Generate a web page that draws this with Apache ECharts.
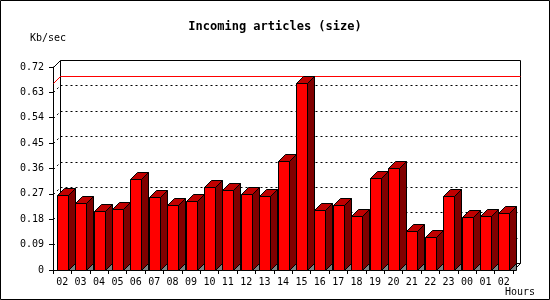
<!DOCTYPE html>
<html>
<head>
<meta charset="utf-8">
<script src="https://cdn.jsdelivr.net/npm/echarts@6/dist/echarts.min.js"></script>
<style>
  html, body { margin: 0; padding: 0; background: #fff; }
  #main { width: 550px; height: 300px; }
</style>
</head>
<body>
<div id="main"></div>
<script>
// hourly incoming article volume
const hours = ['02','03','04','05','06','07','08','09','10','11','12','13','14',
               '15','16','17','18','19','20','21','22','23','00','01','02'];
const kbPerSec = [0.266,0.236,0.209,0.216,0.323,0.259,0.229,0.244,0.294,0.284,0.270,0.262,0.387,
                  0.663,0.212,0.230,0.191,0.326,0.362,0.137,0.116,0.262,0.188,0.191,0.202];
const yTicks = [0,0.09,0.18,0.27,0.36,0.45,0.54,0.63,0.72];

const DEPTH = 7;      // 3d offset in px
const FACE = 11;      // width of bar front
const FONT = 'DejaVu Sans Mono';
const peak = Math.max.apply(null, kbPerSec);
const px = v => Math.round(v) + 0.5;

let myChart = echarts.init(document.getElementById('main'));

function line(x1, y1, x2, y2, style) {
  return { type: 'line', shape: { x1: x1, y1: y1, x2: x2, y2: y2 }, style: style };
}

// back wall, grid lines, peak line
function renderFrame(params, api) {
  const cs = params.coordSys;
  const L = px(cs.x), R = px(cs.x + cs.width), T = px(cs.y), B = px(cs.y + cs.height);
  const solid = { stroke: '#000', lineWidth: 1 };
  const dots = { stroke: '#000', lineWidth: 1, lineDash: [2, 3] };
  const kids = [];
  yTicks.forEach(t => {
    if (t === 0 || t === yTicks[yTicks.length - 1]) return;
    const y = px(api.coord([0, t])[1]);
    kids.push(line(L + DEPTH, y - DEPTH, R + DEPTH, y - DEPTH, dots));
    kids.push(line(L, y, L + DEPTH, y - DEPTH, dots));
  });
  // wall outline
  kids.push(line(L + DEPTH, T - DEPTH, R + DEPTH, T - DEPTH, solid));
  kids.push(line(R + DEPTH, T - DEPTH, R + DEPTH, B - DEPTH, solid));
  kids.push(line(L + DEPTH, T - DEPTH, L + DEPTH, B - DEPTH, solid));
  kids.push(line(L + DEPTH, B - DEPTH, R + DEPTH, B - DEPTH, solid));
  kids.push(line(L, T, L + DEPTH, T - DEPTH, solid));
  kids.push(line(R, B, R + DEPTH, B - DEPTH, solid));
  // peak
  const yp = px(api.coord([0, peak])[1]);
  const red = { stroke: '#ff0000', lineWidth: 1 };
  kids.push(line(L + DEPTH, yp - DEPTH, R + DEPTH, yp - DEPTH, red));
  kids.push(line(L, yp, L + DEPTH, yp - DEPTH, red));
  return { type: 'group', children: kids };
}

function renderBar(params, api) {
  const i = api.value(0);
  const base = api.coord([i, 0]);
  const top = api.coord([i, api.value(1)]);
  const x0 = px(base[0] - FACE / 2), x1 = x0 + FACE;
  const yb = px(base[1]), yt = px(top[1]);
  const d = DEPTH;
  const edge = { stroke: '#000', lineWidth: 1 };
  return {
    type: 'group',
    children: [
      { type: 'polygon', shape: { points: [[x1, yb], [x1 + d, yb - d], [x1 + d, yb]] },
        style: Object.assign({ fill: '#808080' }, edge) },
      { type: 'polygon', shape: { points: [[x1, yt], [x1 + d, yt - d], [x1 + d, yb - d], [x1, yb]] },
        style: Object.assign({ fill: '#800000' }, edge) },
      { type: 'polygon', shape: { points: [[x0, yt], [x0 + d, yt - d], [x1 + d, yt - d], [x1, yt]] },
        style: Object.assign({ fill: '#c00000' }, edge) },
      { type: 'rect', shape: { x: x0, y: yt, width: FACE, height: yb - yt },
        style: Object.assign({ fill: '#ff0000' }, edge) }
    ]
  };
}

let options = {
  animation: false,
  backgroundColor: '#fff',
  title: [
    { text: 'Incoming articles (size)', left: 'center', top: 16,
      textStyle: { fontFamily: FONT, fontWeight: 'bold', fontSize: 12, color: '#000' } },
    { text: 'Kb/sec', left: 25, top: 28,
      textStyle: { fontFamily: FONT, fontWeight: 'normal', fontSize: 10, color: '#000' } },
    { text: 'Hours', left: 500, top: 282,
      textStyle: { fontFamily: FONT, fontWeight: 'normal', fontSize: 10, color: '#000' } }
  ],
  graphic: [
    { type: 'rect', shape: { x: 0.5, y: 0.5, width: 549, height: 299 },
      style: { fill: null, stroke: '#000', lineWidth: 1 }, z: 100 }
  ],
  grid: { left: 53, right: 37, top: 67, bottom: 30 },
  xAxis: {
    type: 'category',
    data: hours,
    boundaryGap: true,
    axisLine: { lineStyle: { color: '#000', width: 1 } },
    axisTick: { show: true, length: 4, lineStyle: { color: '#000' } },
    axisLabel: { color: '#000', fontFamily: FONT, fontSize: 10, margin: 7, interval: 0 },
    splitLine: { show: false }
  },
  yAxis: {
    type: 'value',
    min: yTicks[0],
    max: yTicks[yTicks.length - 1],
    interval: yTicks[1] - yTicks[0],
    axisLine: { show: true, lineStyle: { color: '#000', width: 1 } },
    axisTick: { show: true, length: 4, lineStyle: { color: '#000' } },
    axisLabel: { color: '#000', fontFamily: FONT, fontSize: 10, margin: 9,
                 formatter: v => (v === 0 ? '0' : v.toFixed(2)) },
    splitLine: { show: false }
  },
  series: [
    { type: 'custom', name: 'frame', silent: true, z: 1,
      data: [[0, 0]], renderItem: renderFrame },
    { type: 'custom', name: 'Kb/sec', silent: true, z: 2,
      data: kbPerSec.map((v, i) => [i, v]), renderItem: renderBar }
  ]
};

myChart.setOption(options);
</script>
</body>
</html>
